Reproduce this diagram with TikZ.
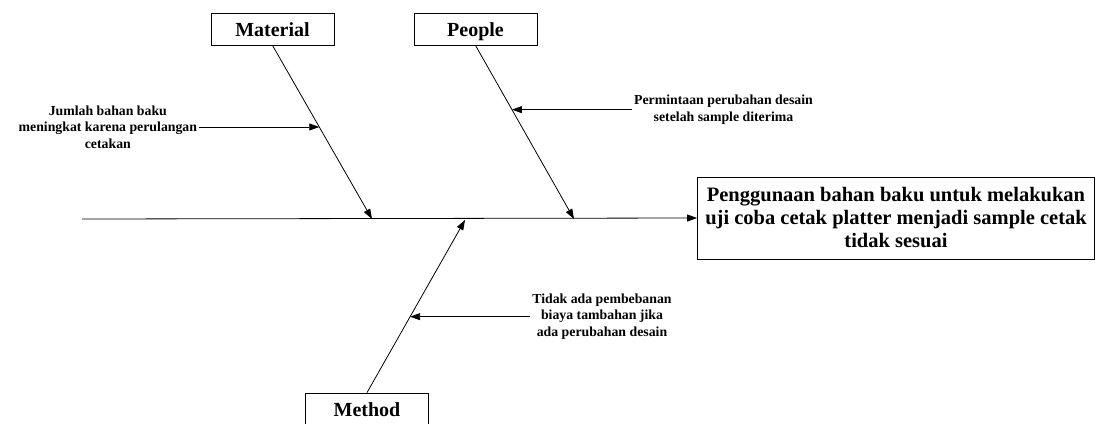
\documentclass[tikz,border=0pt]{standalone}
\usepackage{fontspec}
\setmainfont{Liberation Serif}
\usetikzlibrary{arrows.meta,positioning}

\begin{document}
\begin{tikzpicture}[
    x=1pt, y=-1pt,
    node distance=120pt,
    catbox/.style={draw, line width=0.8pt, minimum width=123pt, minimum height=32pt, inner sep=0pt, text height=15pt, text depth=1pt, font=\bfseries\fontsize{20}{22}\selectfont},
    effect/.style={draw, line width=0.8pt, minimum width=397pt, minimum height=82pt, align=center, font=\bfseries\fontsize{20.5}{23}\selectfont},
    cause/.style={align=center, inner sep=2pt, font=\bfseries\fontsize{13.8}{16.7}\selectfont},
    bone/.style={-{Triangle[length=10pt, width=7pt]}, line width=0.8pt},
    spine/.style={bone}
]
\useasboundingbox (0,0) rectangle (1099,423);

% head and categories
\node[effect] (effect) at (896,218) {Penggunaan bahan baku untuk melakukan\\uji coba cetak platter menjadi sample cetak\\tidak sesuai};
\node[catbox] (material) at (272.5,29) {Material};
\node[catbox] (people) at (475.5,29) {People};
\node[catbox] (method) at (367,409) {Method};

% spine
\coordinate (tail) at (82,219);
\draw[spine] (tail) -- (effect.west);

% bones
\coordinate (matend) at (372,219);
\coordinate (peoend) at (574,219);
\coordinate (metend) at (465,220);
\draw[bone] (material.south) -- coordinate[pos=0.47] (matpt) (matend);
\draw[bone] (people.south) -- coordinate[pos=0.37] (peopt) (peoend);
\draw[bone] (method.north) -- coordinate[pos=0.44] (metpt) (metend);

% causes
\node[cause, left=of matpt] (matcause) {Jumlah bahan baku\\meningkat karena perulangan\\cetakan};
\node[cause, right=of peopt] (peocause) {Permintaan perubahan desain\\setelah sample diterima};
\node[cause, right=of metpt] (metcause) {Tidak ada pembebanan\\biaya tambahan jika\\ada perubahan desain};
\draw[bone] (matcause.east) -- (matpt);
\draw[bone] (peocause.west) -- (peopt);
\draw[bone] (metcause.west) -- (metpt);
\end{tikzpicture}
\end{document}
